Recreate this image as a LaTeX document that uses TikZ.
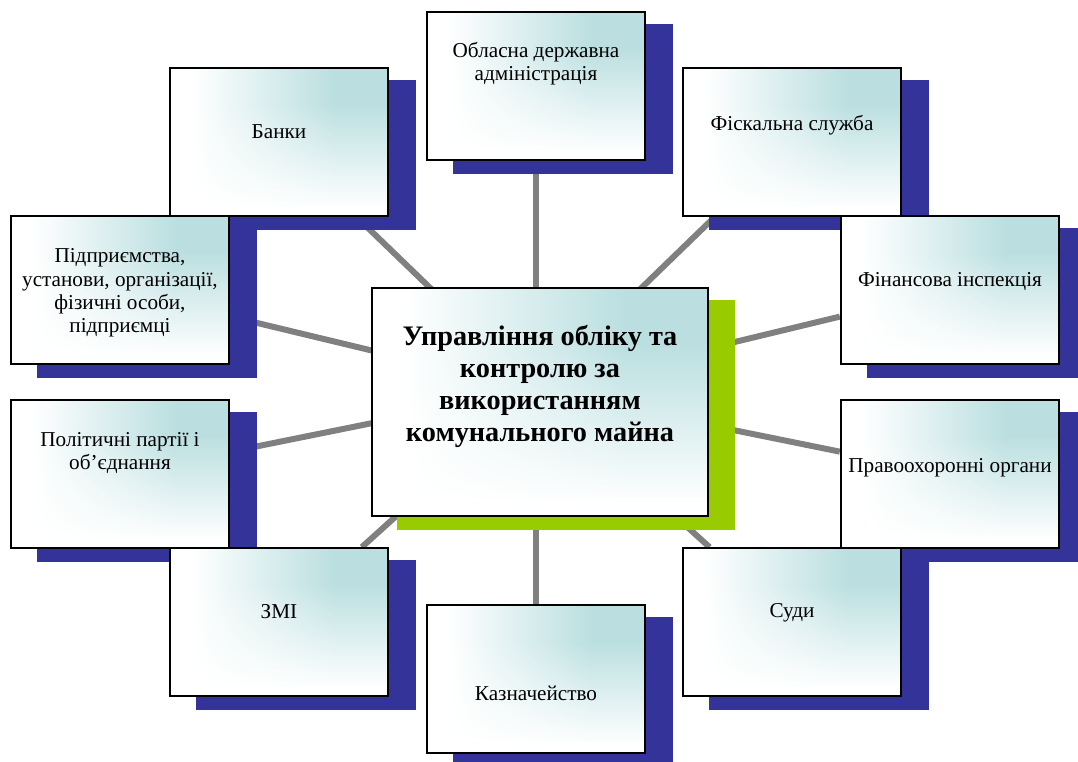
\documentclass[tikz,border=0pt]{standalone}
\usepackage{fontspec}
\setmainfont{Liberation Serif}
\usetikzlibrary{backgrounds}
\definecolor{shadownavy}{RGB}{51,51,153}
\definecolor{shadowgreen}{RGB}{153,204,0}
\definecolor{linkgray}{RGB}{128,128,128}
% white at left and bottom, teal towards the top right
\pgfdeclarefunctionalshading{tealglow}{\pgfpoint{-50bp}{-50bp}}{\pgfpoint{50bp}{50bp}}{}{
  25 add 50 div 0.05 sub 0.7 div
  dup 0 lt {pop 0} if dup 1 gt {pop 1} if
  exch 25 add 50 div 0.1 sub 0.65 div
  dup 0 lt {pop 0} if dup 1 gt {pop 1} if
  mul
  dup 0.265 mul 1 exch sub
  exch dup 0.125 mul 1 exch sub
  exch 0.12 mul 1 exch sub
}
\tikzset{
  box/.style={draw=black, line width=1.3pt, minimum width=164pt, minimum height=111pt, inner sep=0pt,
    shading=tealglow},
  hubbox/.style={box, minimum width=252pt, minimum height=171pt},
  boxtext/.style={align=center, inner sep=0pt, font=\fontsize{15.9}{17.4}\selectfont},
  hubtext/.style={align=center, inner sep=0pt, font=\fontsize{21.2}{24}\selectfont\bfseries},
  link/.style={linkgray, line width=4.5pt},
}
\begin{document}
\begin{tikzpicture}[x=0.75pt, y=-0.75pt]
\useasboundingbox (0,0) rectangle (1078,761);
% centre
\node[hubbox] (upr) at (540,402) {};
\node[hubtext] (upr-t) at (540,386) {Управління обліку та\\контролю за\\використанням\\комунального майна};
% outer boxes
\foreach \n/\x/\y/\dy/\t in {
  oda/536/86/-22/{Обласна державна\\адміністрація},
  fisk/792/142/-17/{Фіскальна служба},
  fin/950/290/-8/{Фінансова інспекція},
  pravo/950/474/-6/{Правоохоронні органи},
  sudy/792/622/-9/{Суди},
  kazn/536/679/14/{Казначейство},
  zmi/279/622/-10/{ЗМІ},
  pol/120/474/-21/{Політичні партії і\\об’єднання},
  pidpr/120/290/3/{Підприємства,\\установи, організації,\\фізичні особи,\\підприємці},
  bank/279/142/-10/{Банки}}{
  \node[box] (\n) at (\x,\y) {};
  \node[boxtext] (\n-t) at (\x,{\y+\dy}) {\t};
}
\begin{scope}[on background layer]
  \coordinate (hub) at (536,390);
  \foreach \n in {oda,fisk,fin,pravo,sudy,kazn,zmi,pol,pidpr,bank}
    \draw[link] (hub) -- (\n);
  \foreach \n in {oda,fisk,fin,pravo,sudy,kazn,zmi,pol,pidpr,bank}
    \fill[shadownavy] ([shift={(27,13)}]\n.south west) rectangle ([shift={(27,13)}]\n.north east);
  \fill[shadowgreen] ([shift={(26,13)}]upr.south west) rectangle ([shift={(26,13)}]upr.north east);
\end{scope}
\end{tikzpicture}
\end{document}
